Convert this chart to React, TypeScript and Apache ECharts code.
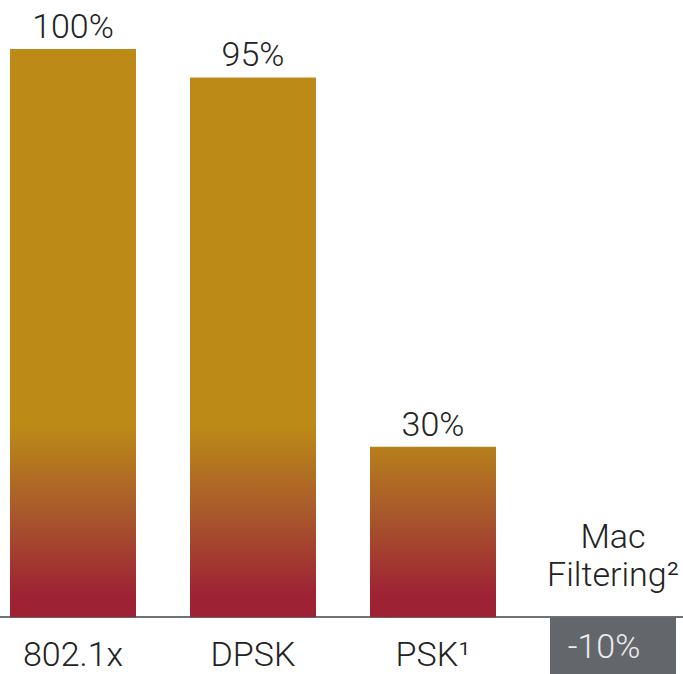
import React, { useEffect, useRef } from "react";
import * as echarts from "echarts";

const categories = ["802.1x", "DPSK", "PSK¹", "Mac\nFiltering²"];
const values = [100, 95, 30, -10];
const valueLabels = ["100%", "95%", "30%", "-10%"];

const FONT = "Roboto, 'Liberation Sans', Arial, sans-serif";
const WEIGHT = 300;
const SIZE = 34;

export default function App() {
  const ref = useRef<HTMLDivElement>(null);
  useEffect(() => {
    document.body.style.margin = "0";
    const chart = echarts.init(ref.current!, null, { renderer: "svg" });
    const grad = new echarts.graphic.LinearGradient(
      0, 425, 0, 596,
      [
        { offset: 0, color: "#bc8b17" },
        { offset: 0.5, color: "#a95a2b" },
        { offset: 1, color: "#9d2234" },
      ],
      true
    );
    const mainData = values.map((v, i) => {
      if (v < 0) {
        return {
          value: v,
          itemStyle: { color: "#63676c" },
          label: {
            show: true,
            position: "inside",
            offset: [-9, 0],
            color: "#ececec",
            formatter: valueLabels[i],
          },
        };
      }
      return { value: v, itemStyle: { color: grad } };
    });
    const nameData = values.map((v) => (v < 0 ? v : null));
    chart.setOption({
      animation: false,
      grid: {
        left: -17,
        right: -20,
        top: 49,
        bottom: 0,
        containLabel: false,
        outerBoundsMode: "none",
      },
      xAxis: {
        type: "category",
        data: categories,
        axisLine: { show: true, lineStyle: { color: "#6d7178", width: 2 } },
        axisTick: { show: false },
        axisLabel: {
          margin: -37,
          fontSize: SIZE,
          fontFamily: FONT,
          fontWeight: WEIGHT,
          color: "#222",
          formatter: (val: string, idx: number) => (values[idx] < 0 ? "" : val),
        },
      },
      yAxis: {
        type: "value",
        min: -10,
        max: 100,
        show: false,
        splitLine: { show: false },
      },
      series: [
        {
          type: "bar",
          barWidth: "70%",
          data: mainData,
          label: {
            show: true,
            position: "top",
            distance: 6,
            fontSize: SIZE,
            fontFamily: FONT,
            fontWeight: WEIGHT,
            color: "#222",
            formatter: (p: any) => valueLabels[p.dataIndex],
          },
        },
        {
          type: "bar",
          barWidth: "70%",
          barGap: "-100%",
          silent: true,
          data: nameData,
          itemStyle: { color: "rgba(0,0,0,0)" },
          label: {
            show: true,
            position: "top",
            distance: 24,
            fontSize: SIZE,
            lineHeight: 38,
            fontFamily: FONT,
            fontWeight: WEIGHT,
            color: "#222",
            formatter: (p: any) => categories[p.dataIndex],
          },
        },
      ],
    });
    return () => chart.dispose();
  }, []);
  return (
    <div
      ref={ref}
      style={{ position: "absolute", left: 0, top: 0, width: 683, height: 674 }}
    />
  );
}
